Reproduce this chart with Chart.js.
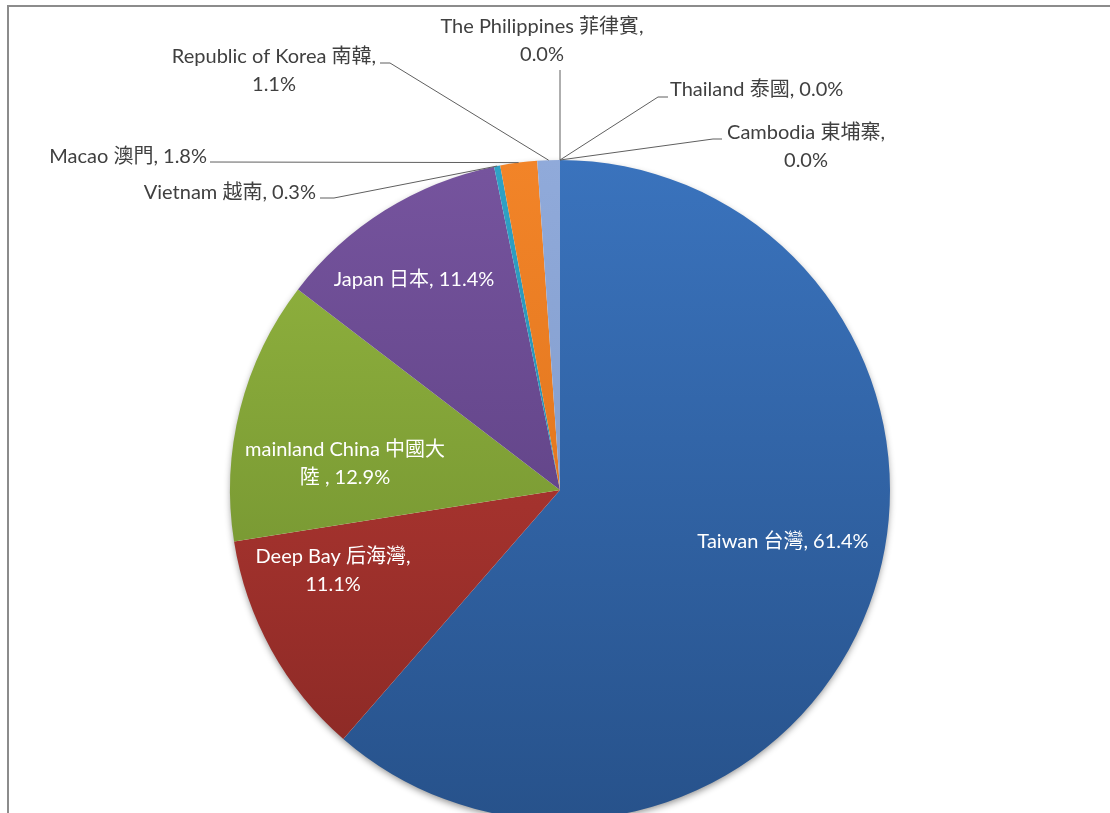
<!DOCTYPE html>
<html>
<head>
<meta charset="utf-8">
<script src="https://cdn.jsdelivr.net/npm/chart.js@4.4.1/dist/chart.umd.min.js"></script>
<style>
  html, body { margin: 0; padding: 0; background: #fff; overflow: hidden; }
  #wrap { position: relative; width: 1110px; height: 813px; overflow: hidden; }
  #frame { position: absolute; left: 7px; top: 5px; width: 1110px; height: 820px;
           border-left: 2px solid #8c8c8c; border-top: 2px solid #8c8c8c; }
  canvas { position: absolute; left: 0; top: 0; }
</style>
</head>
<body>
<div id="wrap">
  <div id="frame"></div>
  <canvas id="pie" width="1110" height="830"></canvas>
</div>
<script>
// data
const categories = ['Taiwan 台灣', 'Deep Bay 后海灣', 'mainland China 中國大陸', 'Japan 日本', 'Vietnam 越南',
                    'Macao 澳門', 'Republic of Korea 南韓', 'The Philippines 菲律賓', 'Thailand 泰國', 'Cambodia 東埔寨'];
const shares = [61.4, 11.1, 12.9, 11.4, 0.3, 1.8, 1.1, 0.0, 0.0, 0.0];

// label text as wrapped in the original
const labelText = [
    ['Taiwan 台灣, 61.4%'],
    ['Deep Bay 后海灣,', '11.1%'],
    ['mainland China 中國大', '陸 , 12.9%'],
    ['Japan 日本, 11.4%'],
    ['Vietnam 越南, 0.3%'],
    ['Macao 澳門, 1.8%'],
    ['Republic of Korea 南韓,', '1.1%'],
    ['The Philippines 菲律賓,', '0.0%'],
    ['Thailand 泰國, 0.0%'],
    ['Cambodia 東埔寨,', '0.0%']
];

// styles
const topColors = ['#3a73bd', '#c23d37', '#95b740', '#76549e', '#2fa2c6', '#f28428', '#90aada', '#3a73bd', '#c23d37', '#95b740'];
const bottomColors = ['#27528b', '#872824', '#67862b', '#523877', '#23809c', '#d56c18', '#7893c3', '#27528b', '#872824', '#67862b'];

// label placement, offsets from pie centre in px
const layout = [
    { dx: 223, dy: 52, align: 'center', inside: true },
    { dx: -227, dy: 67, align: 'center', inside: true },
    { dx: -215, dy: -40, align: 'center', inside: true },
    { dx: -146, dy: -210, align: 'center', inside: true },
    { dx: -244, dy: -297, align: 'right', leader: [[-240, -292], [-226, -292]] },
    { dx: -353, dy: -333, align: 'right', leader: [[-350, -328]] },
    { dx: -286, dy: -433, align: 'center', leader: [[-180, -427], [-170, -427]] },
    { dx: -18, dy: -463, align: 'center', leader: [[0, -420]] },
    { dx: 110, dy: -400, align: 'left', leader: [[108, -393], [98, -393]] },
    { dx: 246, dy: -357, align: 'center', leader: [[162, -351], [153, -351]] }
];

const FONT = '20px Lato, "Noto Sans CJK TC", sans-serif';
const LINE_H = 28;

function grad(chart, i) {
    const { ctx, chartArea } = chart;
    if (!chartArea) return topColors[i];
    const g = ctx.createLinearGradient(0, chartArea.top, 0, chartArea.bottom);
    g.addColorStop(0, topColors[i]);
    g.addColorStop(1, bottomColors[i]);
    return g;
}

const shadowPlugin = {
    id: 'pieShadow',
    beforeDatasetsDraw(chart) {
        const arc = chart.getDatasetMeta(0).data[0];
        if (!arc) return;
        const ctx = chart.ctx;
        ctx.save();
        ctx.shadowColor = 'rgba(0,0,0,0.45)';
        ctx.shadowBlur = 7;
        ctx.shadowOffsetY = 3;
        ctx.fillStyle = '#fff';
        ctx.beginPath();
        ctx.arc(arc.x, arc.y, arc.outerRadius - 1, 0, Math.PI * 2);
        ctx.fill();
        ctx.restore();
    }
};

const labelPlugin = {
    id: 'sliceLabels',
    afterDatasetsDraw(chart) {
        const ctx = chart.ctx;
        const meta = chart.getDatasetMeta(0);
        meta.data.forEach((arc, i) => {
            const p = arc.getProps(['x', 'y', 'startAngle', 'endAngle', 'outerRadius'], true);
            const mid = (p.startAngle + p.endAngle) / 2;
            const ex = p.x + Math.cos(mid) * p.outerRadius;
            const ey = p.y + Math.sin(mid) * p.outerRadius;
            const L = layout[i];

            if (L.leader) {
                ctx.save();
                ctx.strokeStyle = '#5f5f5f';
                ctx.lineWidth = 1;
                ctx.beginPath();
                ctx.moveTo(p.x + L.leader[0][0], p.y + L.leader[0][1]);
                for (let k = 1; k < L.leader.length; k++) {
                    ctx.lineTo(p.x + L.leader[k][0], p.y + L.leader[k][1]);
                }
                ctx.lineTo(ex, ey);
                ctx.stroke();
                ctx.restore();
            }

            ctx.save();
            ctx.font = FONT;
            ctx.fillStyle = L.inside ? '#ffffff' : '#404040';
            ctx.textAlign = L.align;
            ctx.textBaseline = 'middle';
            labelText[i].forEach((line, k) => {
                ctx.fillText(line, p.x + L.dx, p.y + L.dy + k * LINE_H);
            });
            ctx.restore();
        });
    }
};

new Chart(document.getElementById('pie'), {
    type: 'pie',
    data: {
        labels: categories,
        datasets: [{
            data: shares,
            backgroundColor: (c) => grad(c.chart, c.dataIndex),
            borderWidth: 0
        }]
    },
    options: {
        responsive: false,
        animation: false,
        layout: { padding: { top: 160, left: 230, right: 220, bottom: 10 } },
        plugins: {
            legend: { display: false },
            tooltip: { enabled: false }
        }
    },
    plugins: [shadowPlugin, labelPlugin]
});
</script>
</body>
</html>
